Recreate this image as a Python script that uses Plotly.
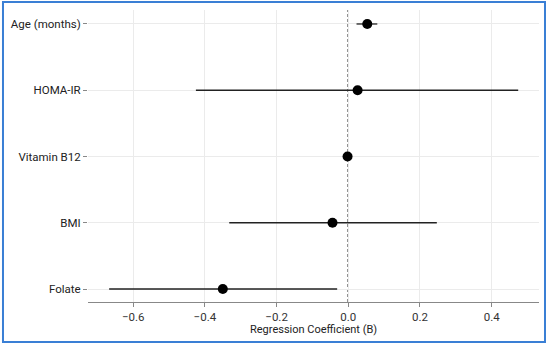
import plotly.graph_objects as go

categories = ["Folate", "BMI", "Vitamin B12", "HOMA-IR", "Age (months)"]
coef = [-0.350, -0.044, -0.002, 0.026, 0.053]
ci_low = [-0.667, -0.332, -0.006, -0.425, 0.023]
ci_high = [-0.031, 0.247, 0.002, 0.474, 0.081]
x_ticks = [-0.6, -0.4, -0.2, 0.0, 0.2, 0.4]
x_tick_labels = ["−0.6", "−0.4", "−0.2", "0.0", "0.2", "0.4"]
x_title = "Regression Coefficient (B)"

err_plus = [h - c for h, c in zip(ci_high, coef)]
err_minus = [c - l for c, l in zip(coef, ci_low)]
ypos = list(range(len(categories)))

font_family = "Roboto, 'Open Sans', sans-serif"

fig = go.Figure()
fig.add_trace(go.Scatter(
    x=coef, y=ypos, mode="markers",
    marker=dict(color="black", size=10),
    error_x=dict(type="data", array=err_plus, arrayminus=err_minus,
                 symmetric=False, color="#222222", thickness=1.3, width=0),
    showlegend=False, hoverinfo="x+y",
))

fig.add_shape(type="line", xref="x", yref="paper", x0=0, x1=0, y0=0, y1=1,
              line=dict(color="#000000", width=1.4, dash="3px,2px"), layer="below")

# outer blue frame
fig.add_shape(type="rect", xref="paper", yref="paper",
              x0=-0.1885, x1=1.0133, y0=-0.137, y1=1.027,
              line=dict(color="#3a7fd5", width=2), fillcolor="rgba(0,0,0,0)")

fig.add_annotation(text=x_title, xref="paper", yref="paper", x=0.5, y=-0.0925,
                   xanchor="center", yanchor="middle", showarrow=False,
                   font=dict(size=11, color="#222222"))

fig.update_layout(
    width=550, height=344,
    margin=dict(l=88, r=11, t=10, b=42),
    paper_bgcolor="white", plot_bgcolor="white",
    font=dict(family=font_family, size=11, color="#222222"),
    xaxis=dict(
        range=[-0.726, 0.532], tickvals=x_ticks, ticktext=x_tick_labels,
        showgrid=True, gridcolor="#ebebeb", gridwidth=1,
        zeroline=False, showline=True, linecolor="#888888", linewidth=1.2,
        ticks="outside", ticklen=4, tickcolor="#888888",
        tickfont=dict(size=11.5, color="#333333"),
        automargin=False,
    ),
    yaxis=dict(
        range=[-0.196, 4.211], tickvals=ypos, ticktext=categories,
        showgrid=True, gridcolor="#ebebeb", gridwidth=1,
        zeroline=False, showline=False, automargin=False,
        ticks="outside", ticklen=4, tickcolor="#888888",
        tickfont=dict(size=11.5, color="#222222"),
    ),
)

fig.write_html("out.html", config={"displayModeBar": False},
               post_script="document.body.style.margin='0';")
